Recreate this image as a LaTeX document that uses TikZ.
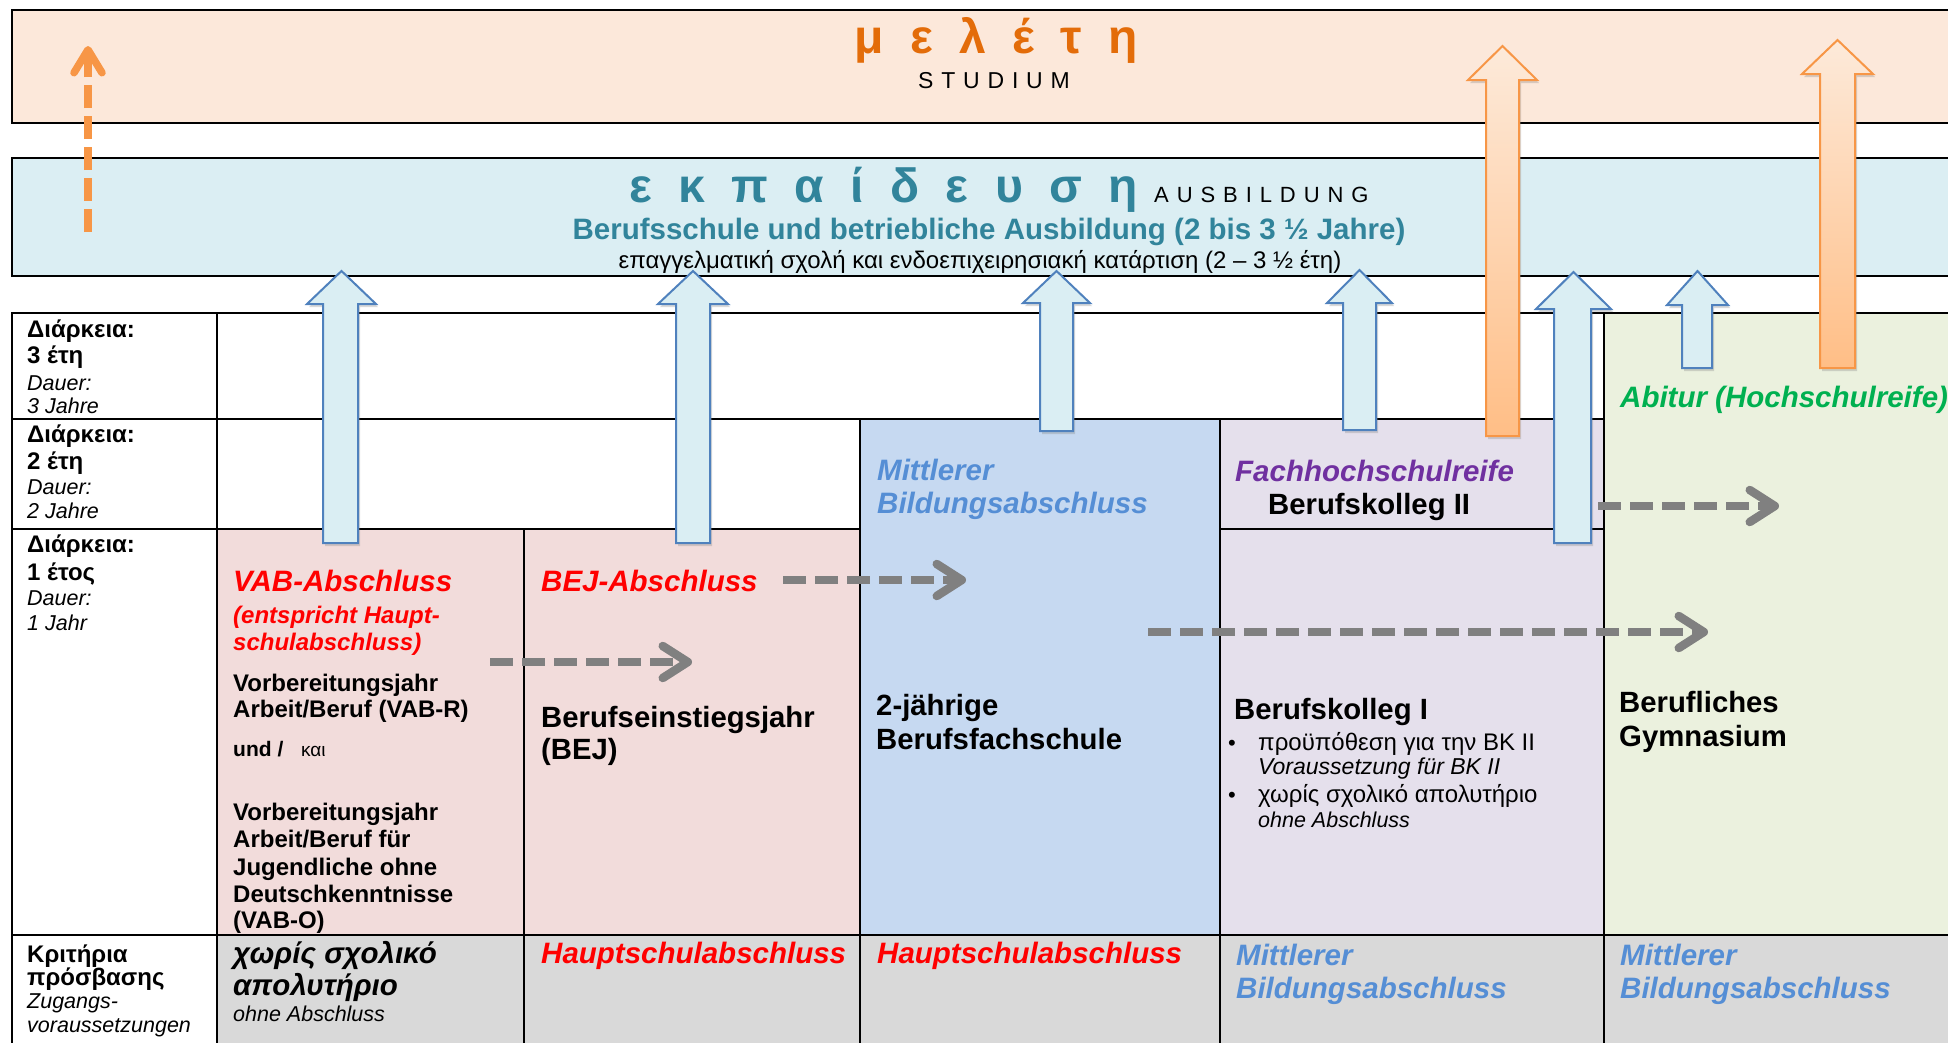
\documentclass[tikz,border=0pt]{standalone}
\usepackage{fontspec}
\setmainfont{Liberation Sans}
\newfontfamily\spacedA{Liberation Sans}[LetterSpace=34]
\newfontfamily\spacedB{Liberation Sans}[LetterSpace=36]
\usetikzlibrary{arrows.meta,shadows}
\definecolor{peachF}{HTML}{FCE8DA}
\definecolor{aqF}{HTML}{DBEEF3}
\definecolor{pinkF}{HTML}{F2DCDB}
\definecolor{blueF}{HTML}{C6D9F1}
\definecolor{lavF}{HTML}{E5E0EC}
\definecolor{greenF}{HTML}{EBF1DE}
\definecolor{grayF}{HTML}{D9D9D9}
\definecolor{orangeT}{HTML}{E36C09}
\definecolor{tealT}{HTML}{31849B}
\definecolor{midT}{HTML}{558ED5}
\definecolor{purpleT}{HTML}{7030A0}
\definecolor{greenT}{HTML}{00B050}
\definecolor{redT}{HTML}{FF0000}
\definecolor{grayA}{HTML}{808080}
\definecolor{orangeA}{HTML}{F79646}
\definecolor{blueA}{HTML}{4F81BD}
\definecolor{arrowFill}{HTML}{DAEEF3}
\definecolor{oTop}{HTML}{FDEADA}
\definecolor{oBot}{HTML}{FFBE86}
\newcommand{\myfs}[1]{\fontsize{#1pt}{#1pt}\selectfont}
\newcommand{\blockarr}[8]{%
  \path[#1] (#2,#8) -- (#2,#7) -- (#4,#7) -- ({(#4+#5)/2},#6) -- (#5,#7) -- (#3,#7) -- (#3,#8) -- cycle;}
\begin{document}
\begin{tikzpicture}[x=1pt,y=-1pt,
  tx/.style={inner sep=0pt, anchor=base west},
  lb/.style={tx, font=\myfs{24}\bfseries},
  li/.style={tx, font=\myfs{21.5}\itshape},
  hd/.style={tx, font=\myfs{29.5}\bfseries\itshape},
  bh/.style={tx, font=\myfs{29.3}\bfseries},
  sm/.style={tx, font=\myfs{24}\bfseries},
  grid/.style={line width=2.5pt, line cap=rect},
  barrow/.style={draw=blueA, fill=arrowFill, line width=2pt,
     drop shadow={shadow xshift=2pt, shadow yshift=-3pt, opacity=0.3}},
  oarrow/.style={draw=orangeA, top color=oTop, bottom color=oBot, line width=2pt,
     drop shadow={shadow xshift=2pt, shadow yshift=-3pt, opacity=0.3}},
  gdash/.style={draw=grayA, line width=8.5pt, dash pattern=on 23pt off 9pt,
     -{Straight Barb[length=25pt, width=32pt, round]}},
  odash/.style={draw=orangeA, line width=7.5pt, dash pattern=on 23pt off 8pt,
     -{Straight Barb[length=23pt, width=28pt, round]}}
]
\useasboundingbox (0,0) rectangle (1948,1042);
% ---- top bands
\fill[peachF] (12,10) rectangle (1975,123);
\draw[grid] (1975,10) -- (12,10) -- (12,123) -- (1975,123);
\fill[aqF] (12,158) rectangle (1975,276);
\draw[grid] (1975,158) -- (12,158) -- (12,276) -- (1975,276);
% ---- table fills
\fill[pinkF] (217,529) rectangle (860,935);
\fill[blueF] (860,419) rectangle (1220,935);
\fill[lavF] (1220,419) rectangle (1604,935);
\fill[greenF] (1604,313) rectangle (1975,935);
\fill[grayF] (217,935) rectangle (1975,1060);
% ---- grid
\draw[grid] (12,313) -- (1975,313);
\draw[grid] (12,419) -- (1604,419);
\draw[grid] (12,529) -- (860,529);
\draw[grid] (1220,529) -- (1604,529);
\draw[grid] (12,935) -- (1975,935);
\draw[grid] (12,313) -- (12,1060);
\draw[grid] (217,313) -- (217,1060);
\draw[grid] (524,529) -- (524,1060);
\draw[grid] (860,419) -- (860,1060);
\draw[grid] (1220,419) -- (1220,1060);
\draw[grid] (1604,313) -- (1604,1060);
% ---- top texts
\node[inner sep=0pt, anchor=base, font=\myfs{48}\bfseries, text=orangeT] (melete) at (996,53) {\spaceskip=0.55em\relax μ ε λ έ τ η};
\node[inner sep=0pt, anchor=base, font=\myfs{23}\spacedA] (studium) at (994,88) {STUDIUM};
\node[tx, font=\myfs{48}\bfseries, text=tealT] (ekp) at (629,202) {\spaceskip=0.55em\relax ε κ π α ί δ ε υ σ η};
\node[tx, font=\myfs{22}\spacedB] (ausb) at (1154,202) {AUSBILDUNG};
\node[inner sep=0pt, anchor=base, font=\myfs{29.5}\bfseries, text=tealT] (bsch) at (989,239) {Berufsschule und betriebliche Ausbildung (2 bis 3 ½ Jahre)};
\node[inner sep=0pt, anchor=base, font=\myfs{24}] (epag) at (980,268) {επαγγελματική σχολή και ενδοεπιχειρησιακή κατάρτιση (2 – 3 ½ έτη)};
% ---- left column
\node[lb] (d1a) at (27,337) {Διάρκεια:};
\node[lb] (d1b) at (27,363) {3 έτη};
\node[li] (d1c) at (27,390) {Dauer:};
\node[li] (d1d) at (27,413) {3 Jahre};
\node[lb] (d2a) at (27,442) {Διάρκεια:};
\node[lb] (d2b) at (27,469) {2 έτη};
\node[li] (d2c) at (27,494) {Dauer:};
\node[li] (d2d) at (27,518) {2 Jahre};
\node[lb] (d3a) at (27,552) {Διάρκεια:};
\node[lb] (d3b) at (27,580) {1 έτος};
\node[li] (d3c) at (27,605) {Dauer:};
\node[li] (d3d) at (27,630) {1 Jahr};
\node[lb] (k1) at (27,962) {Κριτήρια};
\node[lb] (k2) at (27,985) {πρόσβασης};
\node[li] (k3) at (27,1008) {Zugangs-};
\node[li] (k4) at (27,1032) {voraussetzungen};
% ---- VAB column
\node[hd, text=redT] (vab) at (233,591) {VAB-Abschluss};
\node[tx, font=\myfs{24}\bfseries\itshape, text=redT] (vab2) at (233,623) {(entspricht Haupt-};
\node[tx, font=\myfs{24}\bfseries\itshape, text=redT] (vab3) at (233,650) {schulabschluss)};
\node[sm] (vr1) at (233,691) {Vorbereitungsjahr};
\node[sm] (vr2) at (233,717) {Arbeit/Beruf (VAB-R)};
\node[tx, font=\myfs{21}\bfseries] (und) at (233,756) {und /};
\node[tx, font=\myfs{19}] (kai) at (301,756) {και};
\node[sm] (vo1) at (233,820) {Vorbereitungsjahr};
\node[sm] (vo2) at (233,847) {Arbeit/Beruf für};
\node[sm] (vo3) at (233,875) {Jugendliche ohne};
\node[sm] (vo4) at (233,902) {Deutschkenntnisse};
\node[sm] (vo5) at (233,928) {(VAB-O)};
\node[hd] (ohne1) at (233,963) {χωρίς σχολικό};
\node[hd] (ohne2) at (233,995) {απολυτήριο};
\node[li] (ohne3) at (233,1021) {ohne Abschluss};
% ---- BEJ column
\node[hd, text=redT] (bej) at (541,591) {BEJ-Abschluss};
\node[bh] (bej1) at (541,727) {Berufseinstiegsjahr};
\node[bh] (bej2) at (541,759) {(BEJ)};
\node[hd, text=redT] (hs1) at (541,963) {Hauptschulabschluss};
% ---- 2-jaehrige column
\node[hd, text=midT] (mb1) at (877,480) {Mittlerer};
\node[hd, text=midT] (mb2) at (877,513) {Bildungsabschluss};
\node[bh] (bfs1) at (876,715) {2-jährige};
\node[bh] (bfs2) at (876,749) {Berufsfachschule};
\node[hd, text=redT] (hs2) at (877,963) {Hauptschulabschluss};
% ---- BK column
\node[hd, text=purpleT] (fhr) at (1235,481) {Fachhochschulreife};
\node[bh] (bk2) at (1268,514) {Berufskolleg II};
\node[bh] (bk1) at (1234,719) {Berufskolleg I};
\node[tx, font=\myfs{22}] (bul1) at (1228,750) {•};
\node[tx, font=\myfs{24}] (bk1a) at (1258,750) {προϋπόθεση για την BK II};
\node[tx, font=\myfs{23}\itshape] (bk1b) at (1258,774) {Voraussetzung für BK II};
\node[tx, font=\myfs{22}] (bul2) at (1228,802) {•};
\node[tx, font=\myfs{24}] (bk1c) at (1258,802) {χωρίς σχολικό απολυτήριο};
\node[tx, font=\myfs{21.5}\itshape] (bk1d) at (1258,827) {ohne Abschluss};
\node[hd, text=midT] (mb3) at (1236,965) {Mittlerer};
\node[hd, text=midT] (mb4) at (1236,998) {Bildungsabschluss};
% ---- BG column
\node[hd, text=greenT] (abi) at (1620,407) {Abitur (Hochschulreife)};
\node[bh] (bg1) at (1619,712) {Berufliches};
\node[bh] (bg2) at (1619,746) {Gymnasium};
\node[hd, text=midT] (mb5) at (1620,965) {Mittlerer};
\node[hd, text=midT] (mb6) at (1620,998) {Bildungsabschluss};
% ---- dashed grey arrows
\coordinate (g1s) at (490,662); \coordinate (g1e) at (692,662);
\coordinate (g2s) at (783,580); \coordinate (g2e) at (966,580);
\coordinate (g3s) at (1148,632); \coordinate (g3e) at (1708,632);
\coordinate (g4s) at (1598,506); \coordinate (g4e) at (1779,506);
\draw[gdash] (g1s) -- (g1e);
\draw[gdash] (g2s) -- (g2e);
\draw[gdash] (g3s) -- (g3e);
\draw[gdash] (g4s) -- (g4e);
% ---- orange dashed arrow
\coordinate (os) at (88,232); \coordinate (oe) at (88,46);
\draw[odash] (os) -- (oe);
% ---- block arrows
\blockarr{barrow}{323}{358}{307}{376}{271}{304}{543}
\blockarr{barrow}{676}{710}{658}{728}{271}{304}{543}
\blockarr{barrow}{1040}{1073}{1023}{1090}{271}{303}{431}
\blockarr{barrow}{1343}{1376}{1327}{1392}{270}{303}{430}
\blockarr{barrow}{1554}{1591}{1536}{1611}{272}{309}{543}
\blockarr{barrow}{1682}{1712}{1667}{1728}{271}{305}{368}
\blockarr{oarrow}{1486}{1519}{1468}{1537}{46}{80}{436}
\blockarr{oarrow}{1820}{1855}{1802}{1873}{40}{74}{368}
\end{tikzpicture}
\end{document}
